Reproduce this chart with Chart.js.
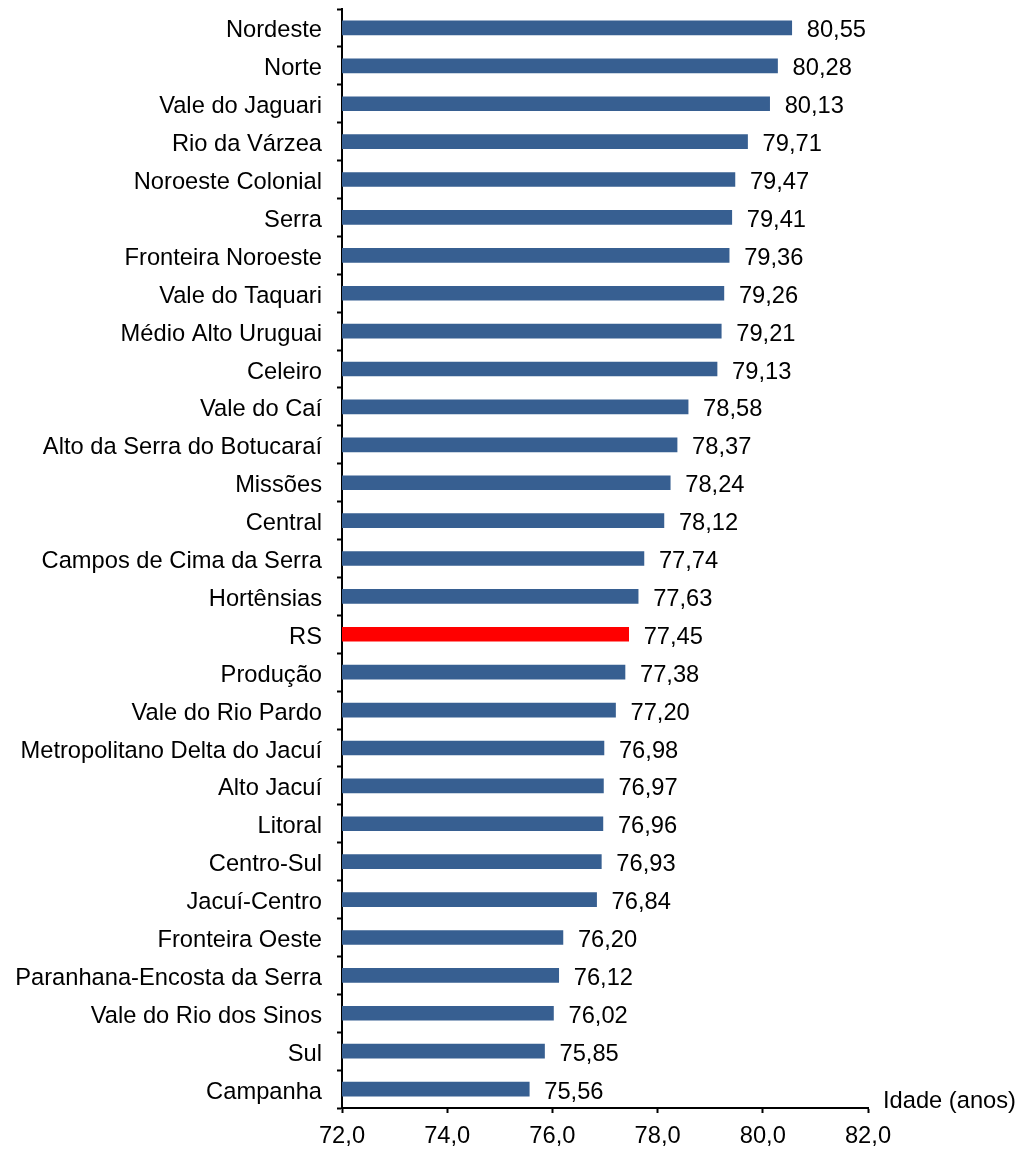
<!DOCTYPE html>
<html>
<head>
<meta charset="utf-8">
<script src="https://cdn.jsdelivr.net/npm/chart.js@4/dist/chart.umd.min.js"></script>
<style>
  html, body { margin: 0; padding: 0; background: #fff; }
  #wrap { width: 1021px; height: 1149px; }
</style>
</head>
<body>
<div id="wrap"><canvas id="chart"></canvas></div>
<script>
// regions, top to bottom
const regioes = [
  'Nordeste', 'Norte', 'Vale do Jaguari', 'Rio da Várzea', 'Noroeste Colonial',
  'Serra', 'Fronteira Noroeste', 'Vale do Taquari', 'Médio Alto Uruguai', 'Celeiro',
  'Vale do Caí', 'Alto da Serra do Botucaraí', 'Missões', 'Central',
  'Campos de Cima da Serra', 'Hortênsias', 'RS', 'Produção', 'Vale do Rio Pardo',
  'Metropolitano Delta do Jacuí', 'Alto Jacuí', 'Litoral', 'Centro-Sul',
  'Jacuí-Centro', 'Fronteira Oeste', 'Paranhana-Encosta da Serra',
  'Vale do Rio dos Sinos', 'Sul', 'Campanha'
];
const expectativa = [
  80.55, 80.28, 80.13, 79.71, 79.47,
  79.41, 79.36, 79.26, 79.21, 79.13,
  78.58, 78.37, 78.24, 78.12,
  77.74, 77.63, 77.45, 77.38, 77.20,
  76.98, 76.97, 76.96, 76.93,
  76.84, 76.20, 76.12,
  76.02, 75.85, 75.56
];
const destaque = 'RS';
const xTicks = [72, 74, 76, 78, 80, 82];
const tituloX = 'Idade (anos)';

const azul = '#375f91';
const fonte = 'Arial, "Liberation Sans", sans-serif';
const tam = 23.7;
const fmt = (v, d) => v.toFixed(d).replace('.', ',');

// value labels at end of bars + axis title
const rotulos = {
  id: 'rotulos',
  afterDatasetsDraw(chart) {
    const ctx = chart.ctx;
    const meta = chart.getDatasetMeta(0);
    ctx.save();
    ctx.font = tam + 'px ' + fonte;
    ctx.fillStyle = '#000';
    ctx.textBaseline = 'middle';
    ctx.textAlign = 'left';
    meta.data.forEach((bar, i) => {
      ctx.fillText(fmt(expectativa[i], 2), bar.x + 15, bar.y + 3);
    });
    const xs = chart.scales.x;
    ctx.fillText(tituloX, xs.right + 15, xs.top - 7);
    ctx.restore();
  }
};

const ctx = document.getElementById('chart').getContext('2d');
new Chart(ctx, {
  type: 'bar',
  data: {
    labels: regioes,
    datasets: [{
      data: expectativa,
      backgroundColor: regioes.map(r => r === destaque ? '#ff0000' : azul),
      barThickness: 14,
      borderWidth: 0
    }]
  },
  options: {
    indexAxis: 'y',
    responsive: true,
    maintainAspectRatio: false,
    animation: false,
    layout: { padding: { top: 9, right: 153, left: 0, bottom: 0 } },
    plugins: { legend: { display: false }, tooltip: { enabled: false } },
    scales: {
      x: {
        type: 'linear',
        min: 72,
        max: 82,
        afterBuildTicks: s => { s.ticks = xTicks.map(v => ({ value: v })); },
        afterFit: s => { s.height = 41; s.paddingLeft = 0; s.paddingRight = 0; },
        ticks: {
          color: '#000',
          font: { family: fonte, size: tam },
          padding: 9,
          maxRotation: 0,
          callback: v => fmt(v, 1)
        },
        grid: { drawOnChartArea: false, drawTicks: true, tickLength: 5, tickColor: '#000', tickWidth: 2 },
        border: { display: true, color: '#000', width: 2 }
      },
      y: {
        afterFit: s => { s.width = 342; s.paddingTop = 0; s.paddingBottom = 0; },
        ticks: {
          color: '#000',
          font: { family: fonte, size: tam },
          padding: 15,
          labelOffset: 3,
          autoSkip: false
        },
        grid: { offset: true, drawOnChartArea: false, drawTicks: true, tickLength: 5, tickColor: '#000', tickWidth: 2 },
        border: { display: true, color: '#000', width: 2 }
      }
    }
  },
  plugins: [rotulos]
});
</script>
</body>
</html>
